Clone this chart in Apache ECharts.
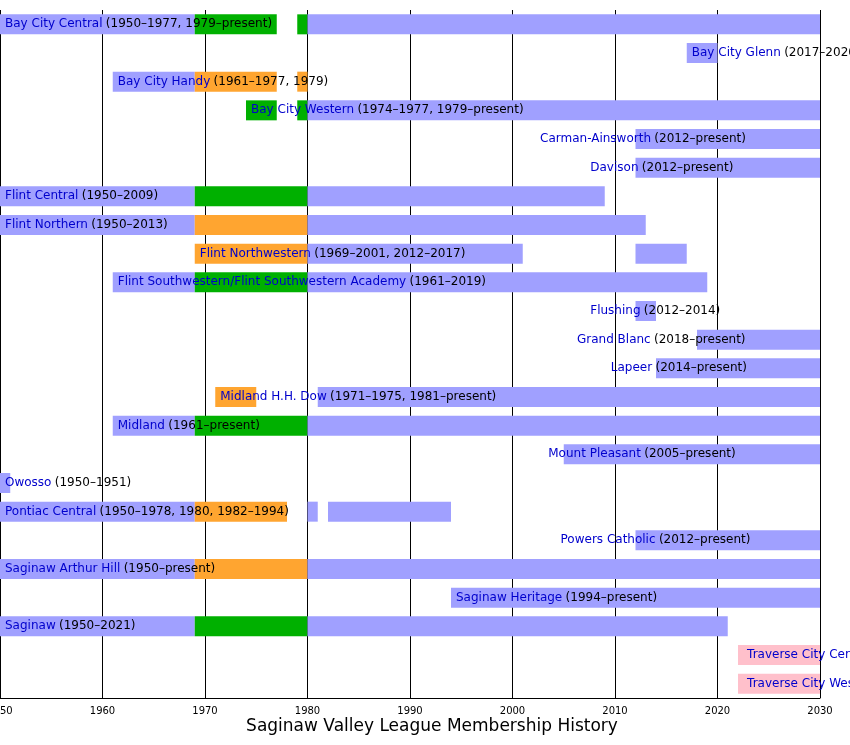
<!DOCTYPE html>
<html>
<head>
<meta charset="utf-8">
<script src="https://cdn.jsdelivr.net/npm/echarts@6/dist/echarts.min.js"></script>
<style>html,body{margin:0;background:#fff}#chart{width:850px;height:745px}</style>
</head>
<body>
<div id="chart"></div>
<script>
var schools = ['Bay City Central', 'Bay City Glenn', 'Bay City Handy', 'Bay City Western',
  'Carman-Ainsworth', 'Davison', 'Flint Central', 'Flint Northern', 'Flint Northwestern',
  'Flint Southwestern/Flint Southwestern Academy', 'Flushing', 'Grand Blanc', 'Lapeer',
  'Midland H.H. Dow', 'Midland', 'Mount Pleasant', 'Owosso', 'Pontiac Central',
  'Powers Catholic', 'Saginaw Arthur Hill', 'Saginaw Heritage', 'Saginaw',
  'Traverse City Central', 'Traverse City West'];
var years = ['(1950–1977, 1979–present)', '(2017–2020)', '(1961–1977, 1979)', '(1974–1977, 1979–present)',
  '(2012–present)', '(2012–present)', '(1950–2009)', '(1950–2013)', '(1969–2001, 2012–2017)',
  '(1961–2019)', '(2012–2014)', '(2018–present)', '(2014–present)',
  '(1971–1975, 1981–present)', '(1961–present)', '(2005–present)', '(1950–1951)', '(1950–1978, 1980, 1982–1994)',
  '(2012–present)', '(1950–present)', '(1994–present)', '(1950–2021)',
  '(2022–present)', '(2022–present)'];
// year at which each label starts
var labelAt = [1950, 2017, 1961, 1974, 2002.2, 2007.1, 1950, 1950, 1969, 1961, 2007.1, 2005.8, 2009.1,
  1971, 1961, 2003, 1950, 1950, 2004.2, 1950, 1994, 1950, 2022.4, 2022.4];
// [row, start, end, kind]
var segments = [
  [0, 1950, 1969, 'b'], [0, 1969, 1977, 'g'], [0, 1979, 1980, 'g'], [0, 1980, 2030, 'b'],
  [1, 2017, 2020, 'b'],
  [2, 1961, 1969, 'b'], [2, 1969, 1977, 'o'], [2, 1979, 1980, 'o'],
  [3, 1974, 1977, 'g'], [3, 1979, 1980, 'g'], [3, 1980, 2030, 'b'],
  [4, 2012, 2030, 'b'],
  [5, 2012, 2030, 'b'],
  [6, 1950, 1969, 'b'], [6, 1969, 1980, 'g'], [6, 1980, 2009, 'b'],
  [7, 1950, 1969, 'b'], [7, 1969, 1980, 'o'], [7, 1980, 2013, 'b'],
  [8, 1969, 1980, 'o'], [8, 1980, 2001, 'b'], [8, 2012, 2017, 'b'],
  [9, 1961, 1969, 'b'], [9, 1969, 1980, 'g'], [9, 1980, 2019, 'b'],
  [10, 2012, 2014, 'b'],
  [11, 2018, 2030, 'b'],
  [12, 2014, 2030, 'b'],
  [13, 1971, 1975, 'o'], [13, 1981, 2030, 'b'],
  [14, 1961, 1969, 'b'], [14, 1969, 1980, 'g'], [14, 1980, 2030, 'b'],
  [15, 2005, 2030, 'b'],
  [16, 1950, 1951, 'b'],
  [17, 1950, 1969, 'b'], [17, 1969, 1978, 'o'], [17, 1980, 1981, 'b'], [17, 1982, 1994, 'b'],
  [18, 2012, 2030, 'b'],
  [19, 1950, 1969, 'b'], [19, 1969, 1980, 'o'], [19, 1980, 2030, 'b'],
  [20, 1994, 2030, 'b'],
  [21, 1950, 1969, 'b'], [21, 1969, 1980, 'g'], [21, 1980, 2021, 'b'],
  [22, 2022, 2030, 'p'],
  [23, 2022, 2030, 'p']
];
var kindColor = { b: '#a0a0ff', g: '#00b000', o: '#ffa530', p: '#ffc0cb' };

var myChart = echarts.init(document.getElementById('chart'));
myChart.setOption({
  animation: false,
  title: {
    text: 'Saginaw Valley League Membership History',
    left: 427, textAlign: 'center', bottom: 5,
    textStyle: { fontFamily: 'DejaVu Sans', fontSize: 17, fontWeight: 'normal', color: '#000' }
  },
  grid: { left: 0, right: 30, top: 10, bottom: 47, containLabel: false, outerBoundsMode: 'none' },
  xAxis: {
    type: 'value', min: 1950, max: 2030, interval: 10,
    axisLine: { show: true, lineStyle: { color: '#000' } },
    axisTick: { show: false },
    axisLabel: { color: '#000', fontSize: 10, fontFamily: 'DejaVu Sans', margin: 8,
      formatter: function (v) { return String(v); } },
    splitLine: { show: true, lineStyle: { color: '#000', width: 1 } }
  },
  yAxis: {
    type: 'category', data: schools, inverse: true,
    axisLine: { show: false }, axisTick: { show: false }, axisLabel: { show: false }
  },
  series: [{
    type: 'custom',
    clip: false,
    data: segments.map(function (s) { return [s[1], s[2], s[0], s[3]]; }),
    renderItem: function (params, api) {
      var a = api.coord([api.value(0), api.value(2)]);
      var b = api.coord([api.value(1), api.value(2)]);
      var h = 20;
      return {
        type: 'rect',
        shape: { x: a[0], y: a[1] - h / 2, width: b[0] - a[0], height: h },
        style: { fill: kindColor[segments[params.dataIndex][3]] }
      };
    }
  }, {
    type: 'custom',
    z: 5,
    clip: false,
    data: schools.map(function (n, i) { return [labelAt[i], i]; }),
    renderItem: function (params, api) {
      var p = api.coord([api.value(0), api.value(1)]);
      var i = params.dataIndex;
      return {
        type: 'text',
        x: p[0] + 5, y: p[1],
        style: {
          text: '{n|' + schools[i] + '} {y|' + years[i] + '}',
          verticalAlign: 'middle',
          rich: {
            n: { fill: '#0000cc', fontSize: 12, fontFamily: 'DejaVu Sans' },
            y: { fill: '#000', fontSize: 12, fontFamily: 'DejaVu Sans' }
          }
        }
      };
    }
  }]
});
</script>
</body>
</html>
